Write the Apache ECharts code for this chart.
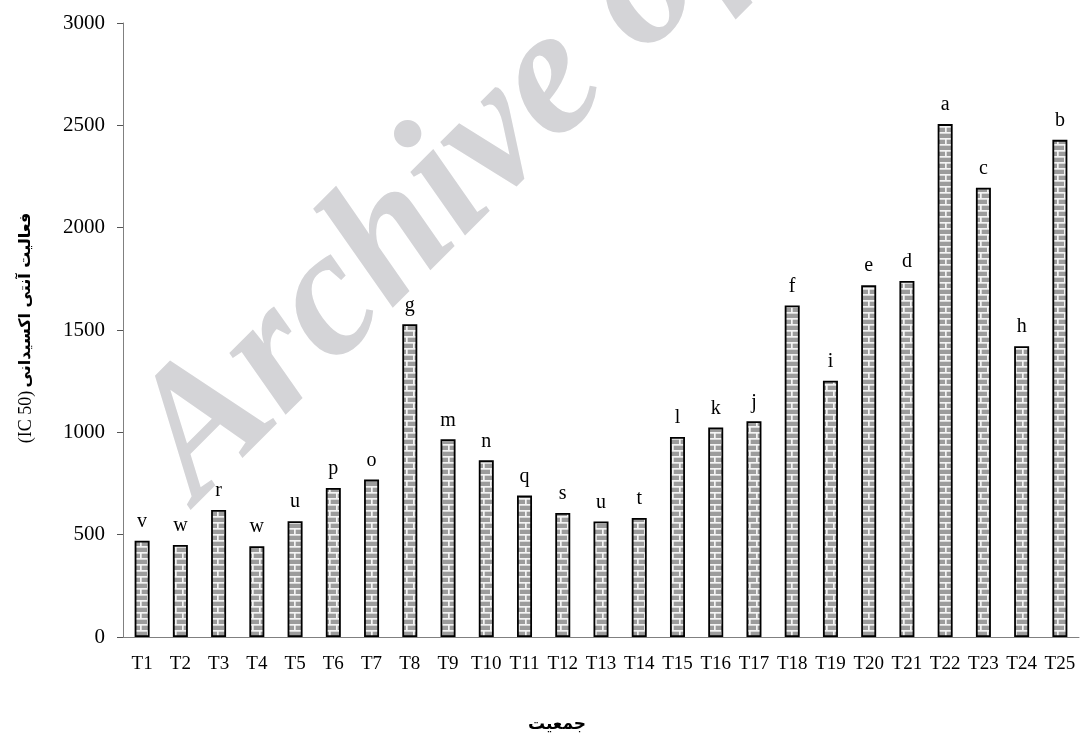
<!DOCTYPE html>
<html><head><meta charset="utf-8">
<script src="https://cdn.jsdelivr.net/npm/echarts@6/dist/echarts.min.js"></script>
<style>html,body{margin:0;padding:0;background:#fff}#c{width:1089px;height:736px}</style>
</head><body><div id="c"></div>
<script>
const categories = ['T1','T2','T3','T4','T5','T6','T7','T8','T9','T10','T11','T12','T13','T14','T15','T16','T17','T18','T19','T20','T21','T22','T23','T24','T25'];
const values = [470,450,621,444,566,728,769,1528,966,863,691,606,564,582,977,1024,1054,1620,1252,1719,1740,2506,2195,1421,2429];
const letters = ['v','w','r','w','u','p','o','g','m','n','q','s','u','t','l','k','j','f','i','e','d','a','c','h','b'];
const yMin = 0, yMax = 3000, yStep = 500;
const yTitleLatin = '(IC 50)';
const yTitleFa = 'فعالیت آنتی اکسیدانی';
const xTitle = 'جمعیت';
const watermark = 'Archive of SID';

const tile = document.createElement('canvas');
tile.width = 14; tile.height = 12;
const g = tile.getContext('2d');
g.fillStyle = '#9c9c9c'; g.fillRect(0, 0, 14, 12);
g.fillStyle = '#f4f4f4';
g.fillRect(0, 0, 14, 1.7); g.fillRect(0, 6, 14, 1.7);
g.fillRect(0, 0, 1.7, 6); g.fillRect(7, 6, 1.7, 6);

const chart = echarts.init(document.getElementById('c'), null, {renderer: 'canvas'});
chart.setOption({
  backgroundColor: '#fff',
  animation: false,
  grid: {left: 123, right: 10, top: 23, bottom: 99, containLabel: false},
  xAxis: {
    type: 'category', data: categories, boundaryGap: true,
    axisLine: {lineStyle: {color: '#808080', width: 1}},
    axisTick: {alignWithLabel: false, length: 5, lineStyle: {color: '#555'}},
    axisLabel: {fontFamily: 'Liberation Serif', fontSize: 19, color: '#000', margin: 18, interval: 0}
  },
  yAxis: {
    type: 'value', min: yMin, max: yMax, interval: yStep,
    axisLine: {show: true, lineStyle: {color: '#808080', width: 1}},
    axisTick: {show: true, length: 6, lineStyle: {color: '#555'}},
    splitLine: {show: false},
    axisLabel: {fontFamily: 'Liberation Serif', fontSize: 21, color: '#000', margin: 18,
      formatter: v => String(v)}
  },
  graphic: [
    {type: 'text', x: 164, y: 470, rotation: 45 * Math.PI / 180, z: -10, silent: true,
     style: {text: watermark, font: 'italic bold 182px "Liberation Serif"', fill: '#d4d4d7', align: 'left', verticalAlign: 'middle'}},
    {type: 'text', x: 26, y: 328, rotation: Math.PI / 2,
     style: {text: '{a|' + yTitleLatin + '} {b|' + yTitleFa + '}', align: 'center', verticalAlign: 'middle',
       rich: {a: {fontFamily: 'Liberation Serif', fontSize: 18, fill: '#000', color: '#000'},
              b: {fontFamily: 'DejaVu Sans', fontWeight: 'bold', fontSize: 16, fill: '#000', color: '#000'}}}},
    {type: 'text', x: 557, y: 725,
     style: {text: xTitle, font: 'bold 17px "DejaVu Sans"', fill: '#000', align: 'center', verticalAlign: 'middle'}}
  ],
  series: [{
    type: 'bar', data: values, barWidth: 15,
    itemStyle: {color: {image: tile, repeat: 'repeat'}, borderColor: '#000', borderWidth: 1.8},
    label: {show: true, position: 'top', distance: 9, fontFamily: 'Liberation Serif', fontSize: 20, color: '#000',
      formatter: p => letters[p.dataIndex]}
  }]
});
</script></body></html>
